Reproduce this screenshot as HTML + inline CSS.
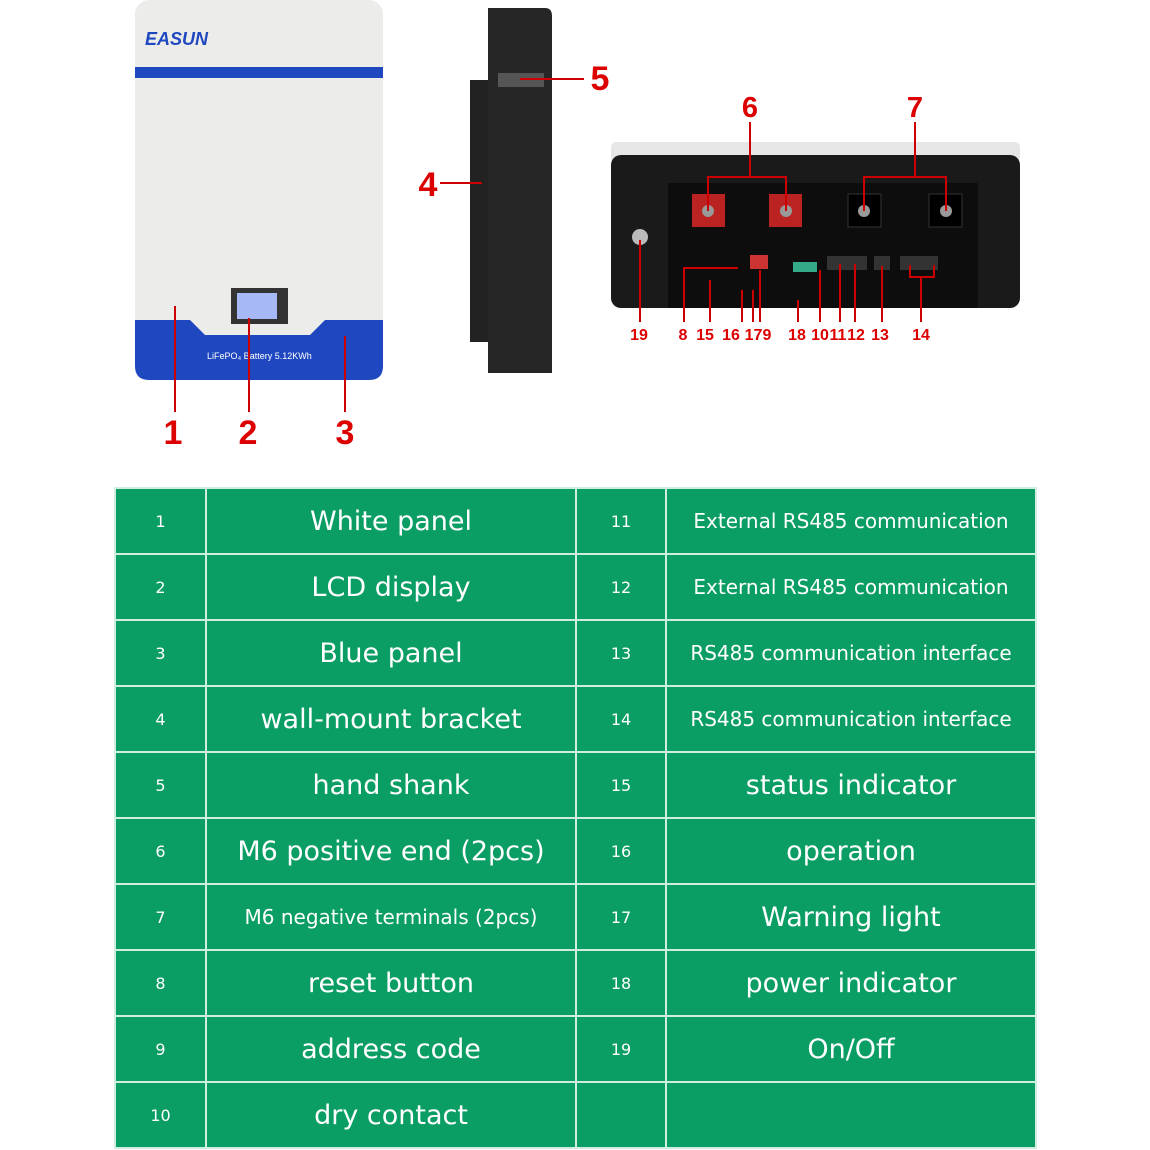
<!DOCTYPE html>
<html><head><meta charset="utf-8"><style>
body{margin:0;width:1150px;height:1150px;background:#fff;overflow:hidden;font-family:"Liberation Sans",sans-serif;}
svg{position:absolute;left:0;top:0}
table{position:absolute;left:114px;top:487px;border-collapse:collapse;background:#0b9e64;table-layout:fixed;width:921px}
td{border:2px solid #cfeee0;color:#fff;text-align:center;padding:0;height:62px;box-sizing:border-box;white-space:nowrap;overflow:hidden;font-family:"DejaVu Sans","Liberation Sans",sans-serif}
tr{height:66px}
td.n{font-size:16px}
td.b{font-size:27px}
td.c{font-size:20px}
</style></head><body>
<svg width="1150" height="480" viewBox="0 0 1150 480">
<rect x="135" y="0" width="248" height="380" rx="14" fill="#ececea"/>
<rect x="135" y="67" width="248" height="11" fill="#1f48c0"/>
<path d="M135 320 H190 L205 335 H310 L325 320 H383 V366 Q383 380 369 380 H149 Q135 380 135 366Z" fill="#1f48c0"/>
<text x="145" y="45" font-size="18" font-weight="bold" font-style="italic" fill="#1f48c0">EASUN</text>
<rect x="231" y="288" width="57" height="36" fill="#333"/>
<rect x="237" y="293" width="40" height="26" fill="#a6b8f5"/>
<text x="207" y="359" font-size="9" fill="#fff">LiFePO₄ Battery 5.12KWh</text>
<line x1="175" y1="306" x2="175" y2="412" stroke="#c00" stroke-width="2"/>
<line x1="249" y1="318" x2="249" y2="412" stroke="#c00" stroke-width="2"/>
<line x1="345" y1="336" x2="345" y2="412" stroke="#c00" stroke-width="2"/>
<g font-size="34" font-weight="bold" fill="#d00" text-anchor="middle">
<text x="173" y="444">1</text><text x="248" y="444">2</text><text x="345" y="444">3</text>
<text x="428" y="196">4</text><text x="600" y="90">5</text>
</g>
<rect x="470" y="80" width="20" height="262" fill="#222"/>
<path d="M488 8 H545 Q552 8 552 16 V373 H488 Z" fill="#262626"/>
<rect x="498" y="73" width="46" height="14" fill="#555"/>
<line x1="440" y1="183" x2="482" y2="183" stroke="#c00" stroke-width="2"/>
<line x1="520" y1="79" x2="584" y2="79" stroke="#c00" stroke-width="2"/>
<rect x="611" y="142" width="409" height="20" rx="5" fill="#e6e6e6"/>
<rect x="611" y="155" width="409" height="153" rx="10" fill="#1a1a1a"/>
<rect x="668" y="183" width="310" height="125" fill="#0d0d0d"/>
<circle cx="640" cy="237" r="8" fill="#bbb"/>
<rect x="692" y="194" width="33" height="33" fill="#b22"/><rect x="769" y="194" width="33" height="33" fill="#b22"/>
<rect x="848" y="194" width="33" height="33" fill="#000" stroke="#333"/><rect x="929" y="194" width="33" height="33" fill="#000" stroke="#333"/>
<g fill="#999"><circle cx="708" cy="211" r="6"/><circle cx="786" cy="211" r="6"/><circle cx="864" cy="211" r="6"/><circle cx="946" cy="211" r="6"/></g>
<rect x="750" y="255" width="18" height="14" fill="#c33"/>
<rect x="793" y="262" width="24" height="10" fill="#3a8"/>
<rect x="827" y="256" width="40" height="14" fill="#333"/><rect x="874" y="256" width="16" height="14" fill="#333"/><rect x="900" y="256" width="38" height="14" fill="#333"/>
<g stroke="#c00" stroke-width="2" fill="none">
<path d="M750 122 V177 M708 211 V177 H786 V211"/>
<path d="M915 122 V177 M864 211 V177 H946 V211"/>
<path d="M640 240 V322 M738 268 H684 V322 M710 280 V322 M742 290 V322 M753 290 V322 M760 270 V322 M798 300 V322 M820 270 V322 M840 264 V322 M855 264 V322 M882 266 V322 M910 265 V277 H934 V265 M921 277 V322"/>
</g>
<g font-size="29" font-weight="bold" fill="#d00" text-anchor="middle"><text x="750" y="117">6</text><text x="915" y="117">7</text></g>
<g font-size="16" font-weight="bold" fill="#d00" text-anchor="middle">
<text x="639" y="340">19</text><text x="683" y="340">8</text><text x="705" y="340">15</text><text x="731" y="340">16</text><text x="758" y="340">179</text><text x="797" y="340">18</text><text x="820" y="340">10</text><text x="838" y="340">11</text><text x="856" y="340">12</text><text x="880" y="340">13</text><text x="921" y="340">14</text>
</g>
</svg>
<table>
<colgroup><col style="width:91px"><col style="width:370px"><col style="width:90px"><col style="width:370px"></colgroup>
<tr><td class="n">1</td><td class="b">White panel</td><td class="n">11</td><td class="c">External RS485 communication</td></tr>
<tr><td class="n">2</td><td class="b">LCD display</td><td class="n">12</td><td class="c">External RS485 communication</td></tr>
<tr><td class="n">3</td><td class="b">Blue panel</td><td class="n">13</td><td class="c">RS485 communication interface</td></tr>
<tr><td class="n">4</td><td class="b">wall-mount bracket</td><td class="n">14</td><td class="c">RS485 communication interface</td></tr>
<tr><td class="n">5</td><td class="b">hand shank</td><td class="n">15</td><td class="b">status indicator</td></tr>
<tr><td class="n">6</td><td class="b">M6 positive end (2pcs)</td><td class="n">16</td><td class="b">operation</td></tr>
<tr><td class="n">7</td><td class="c">M6 negative terminals (2pcs)</td><td class="n">17</td><td class="b">Warning light</td></tr>
<tr><td class="n">8</td><td class="b">reset button</td><td class="n">18</td><td class="b">power indicator</td></tr>
<tr><td class="n">9</td><td class="b">address code</td><td class="n">19</td><td class="b">On/Off</td></tr>
<tr><td class="n">10</td><td class="b">dry contact</td><td class="n"></td><td class="b"></td></tr>
</table>
</body></html>
